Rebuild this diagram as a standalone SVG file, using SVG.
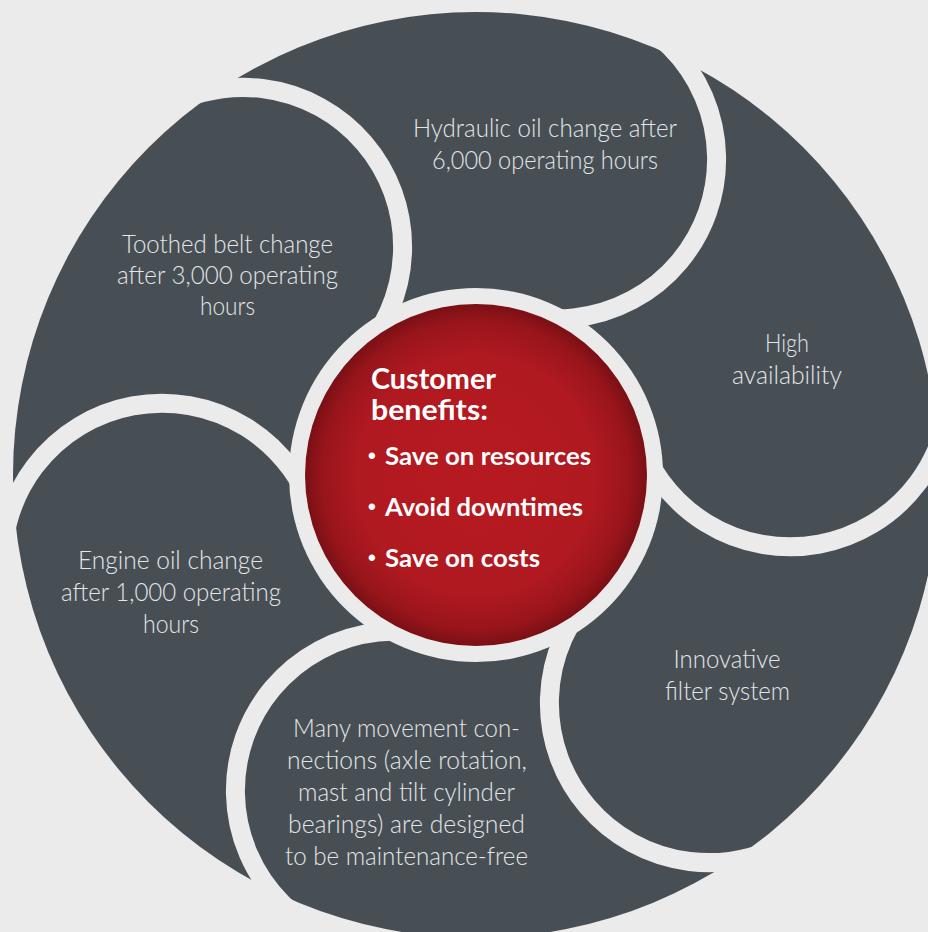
<svg xmlns="http://www.w3.org/2000/svg" xmlns:xlink="http://www.w3.org/1999/xlink" width="928" height="932" viewBox="0 0 928 932">
  <defs>
    <radialGradient id="redGrad" cx="476" cy="475" r="171" gradientUnits="userSpaceOnUse">
      <stop offset="0" stop-color="#b71a20"/>
      <stop offset="0.7" stop-color="#b01920"/>
      <stop offset="0.9" stop-color="#98151b"/>
      <stop offset="1" stop-color="#7a1015"/>
    </radialGradient>
    <path id="ring" d="M642.5 475 A159.5 159.5 0 0 0 959.08 502.7"/>
  </defs>
  <style>
    .bg { fill: #ebebeb; }
    .disc { fill: #474f55; }
    .ring { fill: none; stroke: #ebebeb; stroke-width: 19; }
    .lbl { font-family: Lato, "Open Sans", "Liberation Sans", sans-serif; font-weight: 300; font-size: 25px; fill: #e3e5e6; text-anchor: middle; }
    .hd { font-family: Lato, "Open Sans", "Liberation Sans", sans-serif; font-weight: 700; font-size: 28px; fill: #ffffff; }
    .bl { font-family: Lato, "Open Sans", "Liberation Sans", sans-serif; font-weight: 700; font-size: 25px; fill: #ffffff; }
    .dot { font-family: "Liberation Sans", sans-serif; font-weight: 700; font-size: 22px; fill: #ffffff; }
  </style>
  <rect class="bg" x="0" y="0" width="928" height="932"/>
  <circle id="disc" class="disc" cx="476" cy="475" r="463"/>

  <g id="toothed-belt">
    <use xlink:href="#ring" href="#ring" class="ring" transform="rotate(224.4 476 475)"/>
    <text class="lbl" x="227.5" y="253" textLength="211" lengthAdjust="spacingAndGlyphs">Toothed belt change</text>
    <text class="lbl" x="227.5" y="284" textLength="221" lengthAdjust="spacingAndGlyphs">after 3,000 operating</text>
    <text class="lbl" x="227.5" y="315" textLength="55" lengthAdjust="spacingAndGlyphs">hours</text>
  </g>

  <g id="hydraulic-oil">
    <use xlink:href="#ring" href="#ring" class="ring" transform="rotate(284.4 476 475)"/>
    <text class="lbl" x="545" y="137" textLength="264" lengthAdjust="spacingAndGlyphs">Hydraulic oil change after</text>
    <text class="lbl" x="545" y="169" textLength="226" lengthAdjust="spacingAndGlyphs">6,000 operating hours</text>
  </g>

  <g id="high-availability">
    <use xlink:href="#ring" href="#ring" class="ring" transform="rotate(344.4 476 475)"/>
    <text class="lbl" x="787" y="352" textLength="44" lengthAdjust="spacingAndGlyphs">High</text>
    <text class="lbl" x="787" y="384" textLength="110" lengthAdjust="spacingAndGlyphs">availability</text>
  </g>

  <g id="innovative-filter">
    <use xlink:href="#ring" href="#ring" class="ring" transform="rotate(44.4 476 475)"/>
    <text class="lbl" x="727" y="668" textLength="107" lengthAdjust="spacingAndGlyphs">Innovative</text>
    <text class="lbl" x="727.5" y="700" textLength="125" lengthAdjust="spacingAndGlyphs">filter system</text>
  </g>

  <g id="movement-connections">
    <use xlink:href="#ring" href="#ring" class="ring" transform="rotate(104.4 476 475)"/>
    <text class="lbl" x="406.5" y="737" textLength="227" lengthAdjust="spacingAndGlyphs">Many movement con-</text>
    <text class="lbl" x="407" y="769" textLength="240" lengthAdjust="spacingAndGlyphs">nections (axle rotation,</text>
    <text class="lbl" x="406.5" y="801" textLength="217" lengthAdjust="spacingAndGlyphs">mast and tilt cylinder</text>
    <text class="lbl" x="406.5" y="833" textLength="237" lengthAdjust="spacingAndGlyphs">bearings) are designed</text>
    <text class="lbl" x="406.5" y="865" textLength="243" lengthAdjust="spacingAndGlyphs">to be maintenance-free</text>
  </g>

  <g id="engine-oil">
    <use xlink:href="#ring" href="#ring" class="ring" transform="rotate(164.4 476 475)"/>
    <text class="lbl" x="170.5" y="569" textLength="185" lengthAdjust="spacingAndGlyphs">Engine oil change</text>
    <text class="lbl" x="171" y="601" textLength="220" lengthAdjust="spacingAndGlyphs">after 1,000 operating</text>
    <text class="lbl" x="171" y="633" textLength="56" lengthAdjust="spacingAndGlyphs">hours</text>
  </g>

  <g id="customer-benefits">
    <circle cx="476" cy="475" r="187" fill="#ebebeb"/>
    <circle cx="476" cy="475" r="171" fill="url(#redGrad)"/>
    <text class="hd" x="371" y="389" textLength="125" lengthAdjust="spacingAndGlyphs">Customer</text>
    <text class="hd" x="371" y="420" textLength="117" lengthAdjust="spacingAndGlyphs">benefits:</text>
    <text class="dot" x="368" y="463">•</text>
    <text class="bl" x="385" y="465" textLength="206" lengthAdjust="spacingAndGlyphs">Save on resources</text>
    <text class="dot" x="368" y="514">•</text>
    <text class="bl" x="385" y="516" textLength="198" lengthAdjust="spacingAndGlyphs">Avoid downtimes</text>
    <text class="dot" x="368" y="565">•</text>
    <text class="bl" x="385" y="567" textLength="155" lengthAdjust="spacingAndGlyphs">Save on costs</text>
  </g>
</svg>
